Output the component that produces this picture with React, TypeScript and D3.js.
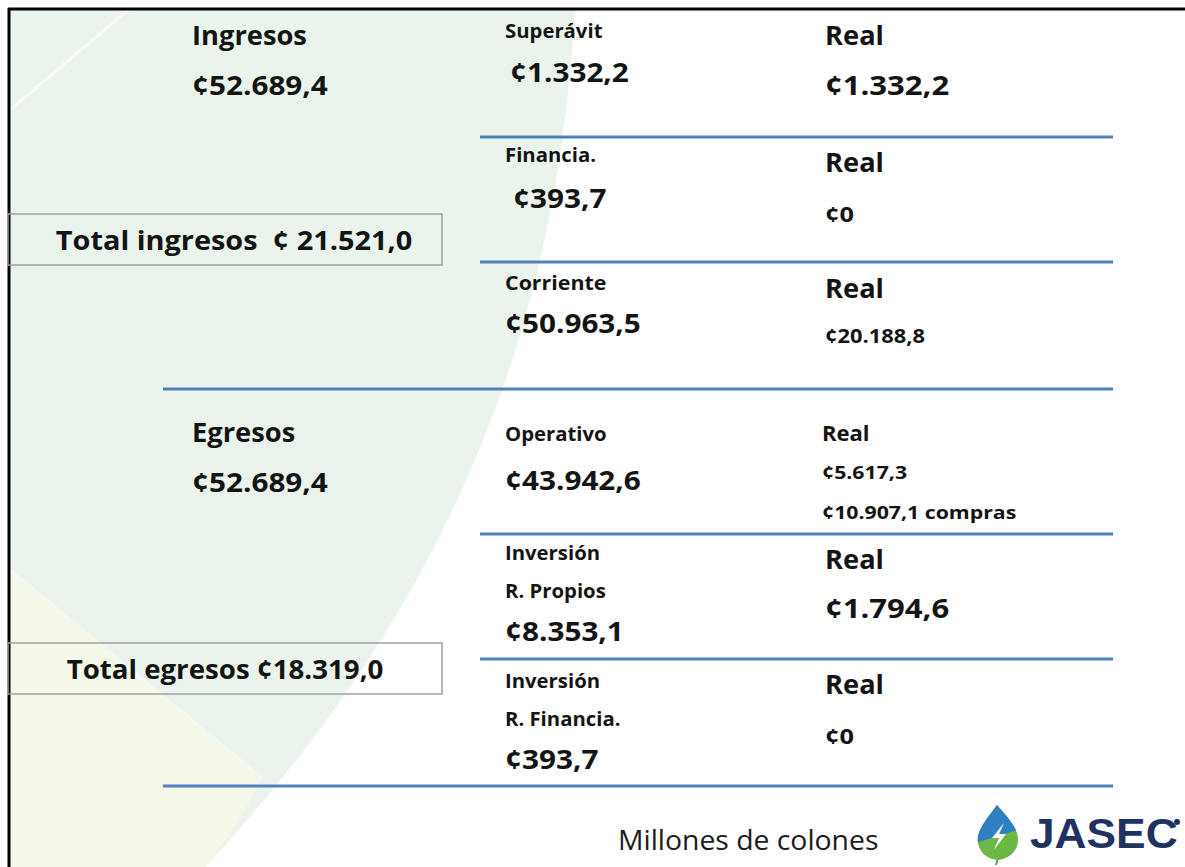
import React from "react";
import * as d3 from "d3";

// section headings on the left
const sectionNames = ["Ingresos", "Egresos"];
const sectionTotals = ["¢52.689,4", "¢52.689,4"];
const boxTexts = ["Total ingresos  ¢ 21.521,0", "Total egresos ¢18.319,0"];

// budget lines (middle column)
const itemLabels = [
  ["Superávit"],
  ["Financia."],
  ["Corriente"],
  ["Operativo"],
  ["Inversión", "R. Propios"],
  ["Inversión", "R. Financia."],
];
const itemValues = ["¢1.332,2", "¢393,7", "¢50.963,5", "¢43.942,6", "¢8.353,1", "¢393,7"];

// executed amounts (right column)
const realValues = [
  ["¢1.332,2"],
  ["¢0"],
  ["¢20.188,8"],
  ["¢5.617,3", "¢10.907,1 compras"],
  ["¢1.794,6"],
  ["¢0"],
];

const unitsNote = "Millones de colones";

// layout
const W = 1185;
const H = 867;
const rowEdges = [10, 137, 262, 389, 534, 659, 786];
const sectionEnds = [2, 5]; // row index after which a full-width line is drawn
const labelDy = [[28], [25], [28], [52], [26, 64], [29, 67]];
const labelSize = [19, 19, 20, 19, 19, 19];
const valueDy = [72, 71, 71, 101, 107, 110];
const valueDx = [5, 8, 0, 0, 0, 0];
const realDy = [35, 35, 36, 52, 35, 35];
const realSize = [26, 26, 26, 21, 26, 26];
const realValDy = [[85], [85], [81], [90, 130], [84], [85]];
const realValSize = [27, 22, 19, 18.5, 27, 22];
const sectionY = [[45, 95], [442, 492]];
const boxY = [[214, 265], [643, 694]];
const boxSx = [1.07, 1.025];

const FONT = "'Open Sans', 'Noto Sans', sans-serif";
const BLUE = "#4f81bd";
const INK = "#141414";
const SX_WORD = 1.05;
const SX_NUM = 1.1;

// text stretched horizontally a little to match the wider original face
function T({ x, y, size, sx, children, anchor = "start", weight = 700, fill = INK }: any) {
  return (
    <text
      transform={`translate(${x},${y}) scale(${sx},1)`}
      fontSize={size}
      fontWeight={weight}
      fill={fill}
      textAnchor={anchor}
      style={{ whiteSpace: "pre" }}
    >
      {children}
    </text>
  );
}

export default function App() {
  const y = d3.scaleLinear().domain([0, H]).range([0, H]);
  const xMid = 505;
  const xReal = 825;
  const xLineStart = 480;
  const xLineEnd = 1113;
  const xFullStart = 163;

  return (
    <div style={{ position: "absolute", left: 0, top: 0 }}>
      <svg width={W} height={H} style={{ display: "block" }} fontFamily={FONT}>
        <rect x={0} y={0} width={W} height={H} fill="#ffffff" />
        {/* soft background shapes */}
        <path d="M10,10 L575,10 C560,250 500,550 205,867 L10,867 Z" fill="#ebf4ec" />
        <path d="M10,570 L262,778 C245,810 228,840 205,867 L10,867 Z" fill="#f5f8e8" />
        <path d="M10,570 L262,778" stroke="#f3f8f1" strokeWidth={3} fill="none" />
        <path d="M10,110 L128,10" stroke="#f7faf6" strokeWidth={3} fill="none" />

        {/* frame */}
        <line x1={8} x2={W} y1={9} y2={9} stroke="#000" strokeWidth={3} />
        <line x1={9} x2={9} y1={8} y2={H} stroke="#000" strokeWidth={3} />

        {/* section headings */}
        {sectionNames.map((s, i) => (
          <g key={s}>
            <T x={192} y={y(sectionY[i][0])} size={26} sx={SX_WORD}>{s}</T>
            <T x={192} y={y(sectionY[i][1])} size={27} sx={SX_NUM}>{sectionTotals[i]}</T>
          </g>
        ))}

        {/* total boxes */}
        {boxTexts.map((t, i) => (
          <g key={t}>
            <rect
              x={8}
              y={y(boxY[i][0])}
              width={434}
              height={y(boxY[i][1]) - y(boxY[i][0])}
              fill="none"
              stroke="#a0a0a0"
              strokeWidth={1.5}
            />
            <T
              x={i === 0 ? 234 : 225}
              y={(y(boxY[i][0]) + y(boxY[i][1])) / 2 + 10}
              anchor="middle"
              size={27}
              sx={boxSx[i]}
            >
              {t}
            </T>
          </g>
        ))}

        {/* rows */}
        {itemLabels.map((labels, i) => {
          const top = rowEdges[i];
          const xr = i === 3 ? 822 : xReal;
          return (
            <g key={i}>
              {labels.map((l, j) => (
                <T key={j} x={xMid} y={y(top + labelDy[i][j])} size={labelSize[i]} sx={1.07}>
                  {l}
                </T>
              ))}
              <T x={xMid + valueDx[i]} y={y(top + valueDy[i])} size={27} sx={SX_NUM}>
                {itemValues[i]}
              </T>
              <T x={xr} y={y(top + realDy[i])} size={realSize[i]} sx={SX_WORD}>
                Real
              </T>
              {realValues[i].map((v, j) => (
                <T key={j} x={xr} y={y(top + realValDy[i][j])} size={realValSize[i]} sx={1.15}>
                  {v}
                </T>
              ))}
            </g>
          );
        })}

        {/* separators */}
        {rowEdges.slice(1).map((e, k) => (
          <line
            key={k}
            x1={sectionEnds.includes(k) ? xFullStart : xLineStart}
            x2={xLineEnd}
            y1={y(e)}
            y2={y(e)}
            stroke={BLUE}
            strokeWidth={3}
          />
        ))}

        {/* footer */}
        <T x={618} y={850} size={27} sx={1.05} weight={400} fill="#1c1c1c">
          {unitsNote}
        </T>

        {/* logo */}
        <g>
          <defs>
            <clipPath id="dropTop">
              <path d="M960,800 L1030,800 L1030,826 L960,848 Z" />
            </clipPath>
          </defs>
          <line x1={998} y1={858} x2={996} y2={865} stroke="#5aa646" strokeWidth={2} />
          <path
            d="M997,805 C986,820 976,831 978,843 C980,855 991,860 998,860 C1010,859 1019,850 1018,838 C1017,826 1006,816 997,805 Z"
            fill="#6cb845"
          />
          <path
            d="M997,805 C986,820 976,831 978,843 C980,855 991,860 998,860 C1010,859 1019,850 1018,838 C1017,826 1006,816 997,805 Z"
            fill="#2f7fc4"
            clipPath="url(#dropTop)"
          />
          <path d="M1004,823 L992,838 L999,838 L994,850 L1006,834 L999,834 Z" fill="#ffffff" />
          <text
            x={1030}
            y={848}
            fontFamily="'Liberation Sans', Arial, sans-serif"
            fontWeight={700}
            fontSize={43}
            fill="#1f3262"
            transform="translate(1030,0) scale(1.03,1) translate(-1030,0)"
          >
            JASEC
          </text>
          <circle cx={1177} cy={822} r={3} fill="#1f3262" />
        </g>
      </svg>
    </div>
  );
}
